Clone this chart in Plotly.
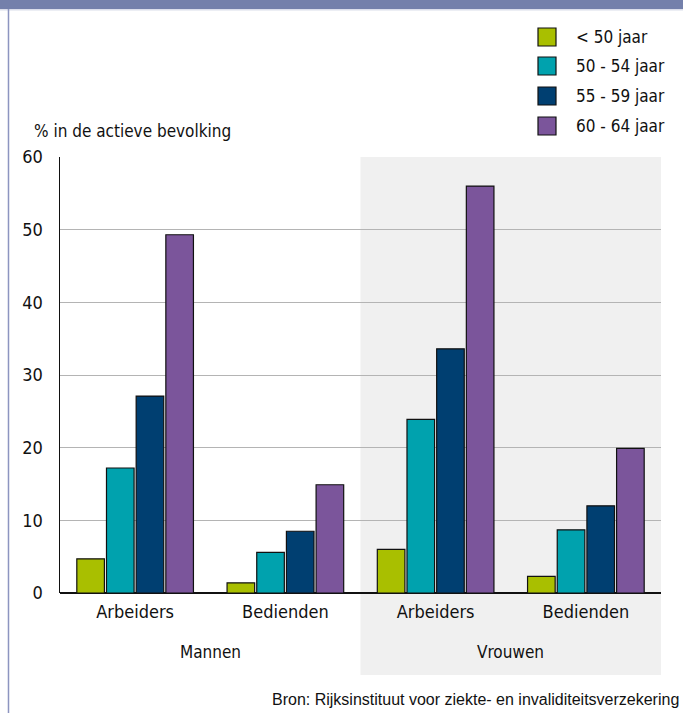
import plotly.graph_objects as go

categories = ["Arbeiders", "Bedienden", "Arbeiders", "Bedienden"]
groups = ["Mannen", "Vrouwen"]
series_names = ["< 50 jaar", "50 - 54 jaar", "55 - 59 jaar", "60 - 64 jaar"]
colors = ["#a9bf00", "#00a2ae", "#003f71", "#7b559b"]
v_lt50 = [4.7, 1.4, 6.0, 2.3]
v_50_54 = [17.2, 5.6, 23.9, 8.7]
v_55_59 = [27.1, 8.5, 33.6, 12.0]
v_60_64 = [49.3, 14.9, 56.0, 19.9]
values = [v_lt50, v_50_54, v_55_59, v_60_64]
y_ticks = [0, 10, 20, 30, 40, 50, 60]

FONT = "Liberation Sans Narrow, DejaVu Sans Condensed, Roboto, sans-serif"

fig = go.Figure()
xs = list(range(len(categories)))
for name, col, vals in zip(series_names, colors, values):
    fig.add_trace(go.Bar(x=xs, y=vals, name=name, marker=dict(color=col, line=dict(color="#111111", width=1.2)),
                         showlegend=False, hoverinfo="skip"))

shapes = []
# shaded region for Vrouwen
shapes.append(dict(type="rect", xref="paper", yref="paper", x0=0.5, x1=1.0, y0=-0.188, y1=1.0,
                   fillcolor="#f0f0f0", line=dict(width=0), layer="below"))
# top band
shapes.append(dict(type="rect", xref="paper", yref="paper", x0=-0.2, x1=1.1, y0=1.3395, y1=1.37,
                   fillcolor="#7480ab", line=dict(width=0)))
shapes.append(dict(type="line", xref="paper", yref="paper", x0=-0.2, x1=1.1, y0=1.3375, y1=1.3375,
                   line=dict(color="#c8cde0", width=1)))
# left border
shapes.append(dict(type="line", xref="paper", yref="paper", x0=-0.0857, x1=-0.0857, y0=-0.3, y1=1.3395,
                   line=dict(color="#8d95c0", width=1.5)))

annotations = []
# legend (custom)
leg_y_px = [37, 66, 96, 126]
for name, col, py in zip(series_names, colors, leg_y_px):
    yc = (593 - py) / 436
    shapes.append(dict(type="rect", xref="paper", yref="paper",
                       x0=(538 - 60) / 601, x1=(556 - 60) / 601,
                       y0=yc - 9 / 436, y1=yc + 9 / 436,
                       fillcolor=col, line=dict(color="#111111", width=1.2)))
    annotations.append(dict(xref="paper", yref="paper", x=(574 - 60) / 601, y=yc, text=name,
                            showarrow=False, xanchor="left", yanchor="middle",
                            font=dict(family=FONT, size=17, color="#111111")))

# y axis title
annotations.append(dict(xref="paper", yref="paper", x=(32 - 60) / 601, y=(593 - 131) / 436,
                        text="% in de actieve bevolking", showarrow=False, xanchor="left", yanchor="middle",
                        font=dict(family=FONT, size=17, color="#111111")))
# group labels
for gi, g in enumerate(groups):
    annotations.append(dict(xref="x", yref="paper", x=gi * 2 + 0.5, y=(593 - 652) / 436, text=g,
                            showarrow=False, xanchor="center", yanchor="middle",
                            font=dict(family=FONT, size=17, color="#111111")))
# source
annotations.append(dict(xref="paper", yref="paper", x=(681 - 60) / 601, y=(593 - 699) / 436,
                        text="Bron: Rijksinstituut voor ziekte- en invaliditeitsverzekering",
                        showarrow=False, xanchor="right", yanchor="middle",
                        font=dict(family="Liberation Sans, Arial, sans-serif", size=16, color="#111111")))

fig.update_layout(
    width=683, height=713,
    margin=dict(l=60, r=22, t=157, b=120, autoexpand=False),
    paper_bgcolor="white", plot_bgcolor="rgba(0,0,0,0)",
    barmode="group", bargap=0.21, bargroupgap=0.07,
    shapes=shapes, annotations=annotations,
    font=dict(family=FONT, size=17, color="#111111"),
)
fig.update_xaxes(tickvals=xs, ticktext=categories, range=[-0.5, 3.5], showgrid=False,
                 showline=False, ticks="", tickfont=dict(size=18, family=FONT), zeroline=False,
                 ticklabelstandoff=6)
fig.update_yaxes(range=[0, 60], tickvals=y_ticks, showgrid=True, gridcolor="#b4b4b4", gridwidth=1,
                 showline=True, linecolor="#111111", linewidth=1.5, zeroline=True, zerolinecolor="#111111",
                 zerolinewidth=1.5, ticks="", tickfont=dict(size=18, family=FONT), ticklabelstandoff=12)

fig.write_html("out.html", config={"displayModeBar": False, "staticPlot": True},
               post_script="document.body.style.margin='0';document.body.style.overflow='hidden';")
